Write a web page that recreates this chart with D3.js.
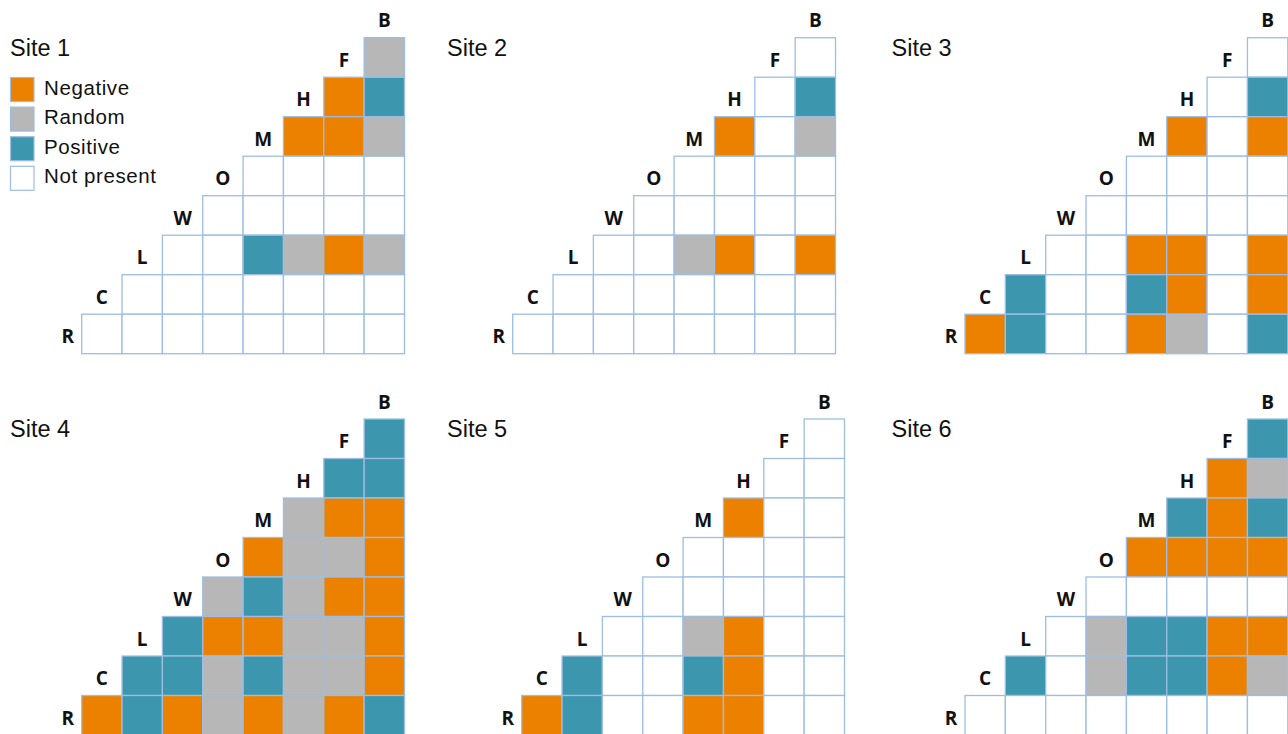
<!DOCTYPE html>
<html>
<head>
<meta charset="utf-8">
<script src="https://cdn.jsdelivr.net/npm/d3@7/dist/d3.min.js"></script>
<style>
  html, body { margin: 0; padding: 0; background: #fff; overflow: hidden; }
  svg { display: block; }
</style>
</head>
<body>
<svg id="chart" width="1288" height="734"></svg>
<script>
// Species in diagonal order (top-right to bottom-left)
const species = ["B", "F", "H", "M", "O", "W", "L", "C", "R"];

// Association outcome categories and their codes
const outcomeNames = ["Negative", "Random", "Positive", "Not present"];
const outcomeCodes = ["n", "r", "p", "."];

const siteNames = ["Site 1", "Site 2", "Site 3", "Site 4", "Site 5", "Site 6"];

// One string per row species (F .. R); characters run from the pair
// next to the diagonal out to the pair with B.
const site1 = ["r", "np", "nnr", "....", ".....", "..prnr", ".......", "........"];
const site2 = [".", ".p", "n.r", "....", ".....", "..rn.n", ".......", "........"];
const site3 = [".", ".p", "n.n", "....", ".....", "..nn.n", "p..pn.n", "np..nr.p"];
const site4 = ["p", "pp", "rnn", "nrrn", "rprnn", "pnnrrn", "pprprrn", "npnrnrnp"];
const site5 = [".", "..", "n..", "....", ".....", "..rn..", "p..pn..", "np..nn.."];
const site6 = ["p", "nr", "pnp", "nnnn", ".....", ".rppnn", "p.rppnr", "........"];

const siteData = [site1, site2, site3, site4, site5, site6];

// ---- layout ----
const CELL_W = 40.35, CELL_H = 39.5;
const panelOrigins = [
  { gx: 81.7,  gy: 37.7,  tx: 10,    ty: 56 },
  { gx: 512.7, gy: 37.7,  tx: 447,   ty: 56 },
  { gx: 965,   gy: 37.7,  tx: 891.5, ty: 56 },
  { gx: 81.7,  gy: 419,   tx: 10,    ty: 437 },
  { gx: 521.7, gy: 419,   tx: 447,   ty: 437 },
  { gx: 965,   gy: 419,   tx: 891.5, ty: 437 }
];

const color = d3.scaleOrdinal()
  .domain(outcomeCodes)
  .range(["#ec8100", "#b7b7b7", "#3c96ad", "#ffffff"]);
const strokeColor = "#9dbde4";

const colDomain = ["C", "L", "W", "O", "M", "H", "F", "B"];
const rowDomain = species.slice(1); // F H M O W L C R

const svg = d3.select("#chart");

siteData.forEach((rows, si) => {
  const o = panelOrigins[si];
  const x = d3.scaleBand().domain(colDomain)
    .range([o.gx, o.gx + CELL_W * colDomain.length]).padding(0);
  const y = d3.scaleBand().domain(rowDomain)
    .range([o.gy, o.gy + CELL_H * rowDomain.length]).padding(0);

  const cells = [];
  rows.forEach((str, ri) => {
    const rowSp = rowDomain[ri];
    const i = ri + 1; // index of row species in `species`
    str.split("").forEach((code, k) => {
      cells.push({ row: rowSp, col: species[i - 1 - k], code });
    });
  });

  const g = svg.append("g").attr("class", "site");

  g.append("text")
    .attr("x", o.tx).attr("y", o.ty)
    .attr("font-family", "'Liberation Sans', Arial, Helvetica, sans-serif")
    .attr("font-size", 23.5)
    .attr("fill", "#111")
    .text(siteNames[si]);

  g.selectAll("rect.cell")
    .data(cells)
    .join("rect")
    .attr("class", "cell")
    .attr("x", d => x(d.col))
    .attr("y", d => y(d.row))
    .attr("width", x.bandwidth())
    .attr("height", y.bandwidth())
    .attr("fill", d => color(d.code))
    .attr("stroke", strokeColor)
    .attr("stroke-width", 1.3);

  // Diagonal species labels
  g.selectAll("text.sp")
    .data(species)
    .join("text")
    .attr("class", "sp")
    .attr("x", s => colDomain.includes(s) ? x(s) + x.bandwidth() / 2 : o.gx - 14)
    .attr("y", s => (rowDomain.includes(s) ? y(s) + y.bandwidth() / 2 : o.gy - y.bandwidth() / 2) + 2.5)
    .attr("text-anchor", "middle")
    .attr("dominant-baseline", "central")
    .attr("font-family", "'Open Sans', 'DejaVu Sans', sans-serif")
    .attr("font-weight", 700)
    .attr("font-size", 19)
    .attr("fill", "#111")
    .text(s => s);
});

// Legend (first panel)
const legend = svg.append("g").attr("class", "legend")
  .attr("transform", "translate(10,77.5)");
const items = legend.selectAll("g")
  .data(outcomeCodes)
  .join("g")
  .attr("transform", (d, i) => `translate(0,${i * 29.6})`);
items.append("rect")
  .attr("x", 0.5).attr("y", 0)
  .attr("width", 23.5).attr("height", 24)
  .attr("fill", d => color(d))
  .attr("stroke", strokeColor)
  .attr("stroke-width", 1.2);
items.append("text")
  .attr("x", 34).attr("y", 17)
  .attr("font-family", "'Liberation Sans', Arial, Helvetica, sans-serif")
  .attr("font-size", 20.5)
  .attr("letter-spacing", 0.6)
  .attr("fill", "#111")
  .text((d, i) => outcomeNames[i]);
</script>
</body>
</html>
